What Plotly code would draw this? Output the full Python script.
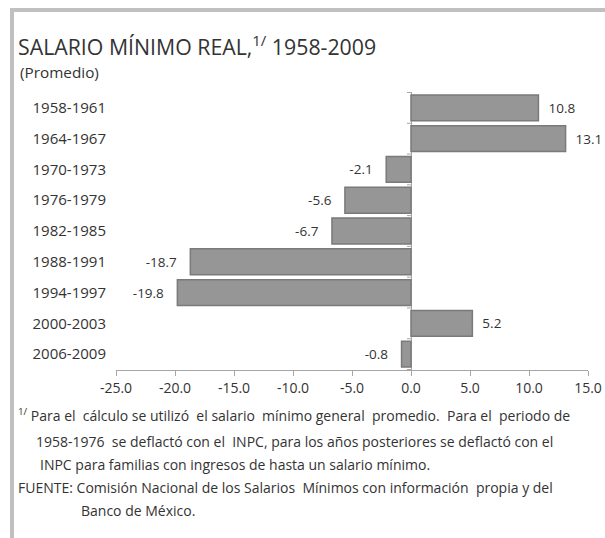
import plotly.graph_objects as go

categories = ["1958-1961", "1964-1967", "1970-1973", "1976-1979", "1982-1985",
              "1988-1991", "1994-1997", "2000-2003", "2006-2009"]
values = [10.8, 13.1, -2.1, -5.6, -6.7, -18.7, -19.8, 5.2, -0.8]
x_ticks = [-25, -20, -15, -10, -5, 0, 5, 10, 15]

W, H = 605, 538
L, R, T, B = 116, 17, 92, 168
PW, PH = W - L - R, H - T - B

def px(x):
    return (x - L) / PW

def py(y):
    return (H - B - y) / PH

FONT = "Open Sans"
TXT = "#333333"
GRID = "#a6a6a6"

labels = [("\u00a0\u00a0%.1f" % v) if v >= 0 else ("%.1f\u00a0\u00a0\u00a0" % v) for v in values]

fig = go.Figure(go.Bar(
    y=categories, x=values, orientation="h",
    marker=dict(color="#969696", line=dict(color="#7a7a7a", width=1.5)),
    text=labels, textposition="outside",
    textfont=dict(family=FONT, size=13.5, color=TXT),
    cliponaxis=False, hoverinfo="x+y",
))

fig.update_layout(
    width=W, height=H,
    margin=dict(l=L, r=R, t=T, b=B, pad=0, autoexpand=False),
    plot_bgcolor="white", paper_bgcolor="white",
    bargap=0.16, showlegend=False,
    font=dict(family=FONT, size=13, color=TXT),
    xaxis=dict(range=[-25, 15], tickvals=x_ticks,
               ticktext=[f"{v:.1f}" for v in x_ticks],
               showgrid=False, zeroline=True, zerolinecolor=GRID, zerolinewidth=1,
               showline=True, linecolor=GRID, linewidth=1,
               ticks="outside", ticklen=5, tickcolor=GRID, automargin=False,
               tickfont=dict(family=FONT, size=14, color=TXT), fixedrange=True),
    yaxis=dict(categoryorder="array", categoryarray=categories[::-1],
               showgrid=False, zeroline=False, showline=False, ticks="",
               ticklabelstandoff=9, automargin=False,
               tickfont=dict(family=FONT, size=15, color=TXT), fixedrange=True),
)

# small category tick marks on the zero axis, at category boundaries
for i in range(len(categories) + 1):
    fig.add_shape(type="line", xref="x", yref="y", xsizemode="pixel", xanchor=0,
                  x0=-4, x1=0, y0=i - 0.5, y1=i - 0.5,
                  line=dict(color=GRID, width=1))

# frame (light gray top and left borders)
fig.add_shape(type="line", xref="paper", yref="paper",
              x0=px(10), x1=px(W), y0=py(10), y1=py(10),
              line=dict(color="#c0c0c0", width=4))
fig.add_shape(type="line", xref="paper", yref="paper",
              x0=px(12), x1=px(12), y0=py(8), y1=py(H),
              line=dict(color="#c0c0c0", width=4))

def note(text, x, y, size=13, anchor="left"):
    fig.add_annotation(text=text, xref="paper", yref="paper", x=px(x), y=py(y),
                       xanchor=anchor, yanchor="middle", showarrow=False,
                       font=dict(family=FONT, size=size, color=TXT), align="left")

note("SALARIO MÍNIMO REAL,<sup>1/</sup> 1958-2009", 16, 46, size=21.3)
note("(Promedio)", 18, 72, size=15.3)
note("<sup>1/</sup> Para el  cálculo se utilizó  el salario  mínimo general  promedio.  Para el  periodo de", 16, 415, size=14)
note("1958-1976  se deflactó con el  INPC, para los años posteriores se deflactó con el", 34, 441, size=14)
note("INPC para familias con ingresos de hasta un salario mínimo.", 38, 464, size=14)
note("FUENTE: Comisión Nacional de los Salarios  Mínimos con información  propia y del", 16, 487, size=14)
note("Banco de México.", 79, 510, size=14)

fig.write_html("out.html", config={"displayModeBar": False},
               post_script="document.body.style.margin='0';")
